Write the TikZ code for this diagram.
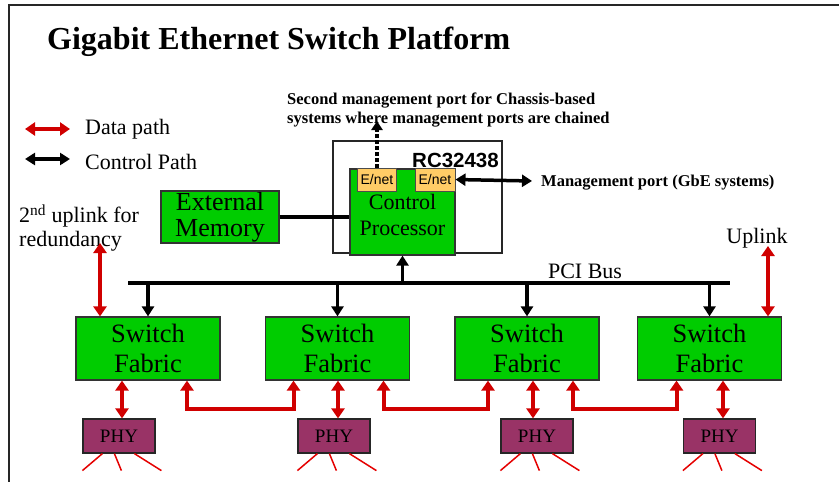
\documentclass[tikz,border=0pt]{standalone}
\usepackage{fontspec}
\setmainfont{Liberation Serif}
\newfontfamily\arialf{Liberation Sans}
\usetikzlibrary{arrows.meta,calc}
\definecolor{boxgreen}{RGB}{0,204,0}
\definecolor{phycol}{RGB}{153,51,102}
\definecolor{enetcol}{RGB}{255,204,102}
\definecolor{datared}{RGB}{208,0,0}
\newcommand{\fsz}[2]{\fontsize{#1}{#2}\selectfont}
\begin{document}
\begin{tikzpicture}[x=1pt,y=-1pt,
  greenbox/.style={draw=black!80, line width=1.2pt, fill=boxgreen, inner sep=0pt, align=center},
  sfbox/.style={greenbox, minimum width=144pt, minimum height=63pt, font=\fsz{26.5}{30}},
  phybox/.style={draw=black!85, line width=1.2pt, fill=phycol, minimum width=72pt, minimum height=34pt, inner sep=0pt, font=\fsz{19}{20}},
  enetbox/.style={draw=black!70, line width=1pt, fill=enetcol, minimum height=23pt, inner sep=0pt, font=\arialf\fsz{14}{16}},
  datalink/.style={draw=datared, line width=4pt, {Triangle[width=13pt,length=10pt]}-{Triangle[width=13pt,length=10pt]}},
  ctrlarrow/.style={draw=black, line width=3.5pt, -{Triangle[width=12pt,length=10pt]}},
  ctrlboth/.style={draw=black, line width=3.5pt, {Triangle[width=12pt,length=10pt]}-{Triangle[width=12pt,length=10pt]}},
  spoke/.style={draw=red!90!black, line width=1.5pt},
  lbl/.style={inner sep=0pt, font=\fsz{22}{24}}
]
\useasboundingbox (0,0) rectangle (839,482);
\fill[white] (0,0) rectangle (839,482);
% frame
\draw[line width=2pt, black!85] (839,5) -- (9,5) -- (9,482);

% title
\node[anchor=west, inner sep=0pt, font=\bfseries\fsz{32}{36}] (title) at (47,42) {Gigabit Ethernet Switch Platform};

% legend
\coordinate (lg1a) at (25,129);
\coordinate (lg1b) at (70,129);
\coordinate (lg2a) at (25,159);
\coordinate (lg2b) at (70,159);
\draw[datalink, line width=3.5pt] (lg1a) -- (lg1b);
\draw[ctrlboth] (lg2a) -- (lg2b);
\node[lbl, anchor=west] (ldata) at (85,129.5) {Data path};
\node[lbl, anchor=west] (lctrl) at (85,161.5) {Control Path};

% second uplink label
\node[lbl, anchor=west, align=left] (up2txt) at (19,228) {2\textsuperscript{nd} uplink for\\redundancy};

% RC32438 package
\node[draw=black!85, line width=1.2pt, fill=white, minimum width=169pt, minimum height=112pt, inner sep=0pt] (rc) at (417.5,197) {};
\node[anchor=west, inner sep=0pt, font=\arialf\bfseries\fsz{20.5}{22}] (rctxt) at (412,160) {RC32438};
\node[greenbox, minimum width=105pt, minimum height=86pt, font=\fsz{22}{26}] (cp) at (402.5,212) {\\[-4pt]Control\\Processor};
\node[enetbox, minimum width=39pt] (en1) at (377,179.5) {E/net};
\node[enetbox, minimum width=40pt] (en2) at (435,179.5) {E/net};

% external memory
\node[greenbox, minimum width=118pt, minimum height=52pt, font=\fsz{26}{26}] (mem) at (220,217) {External\\Memory};
\draw[black, line width=3.5pt] (mem.east) -- (mem.east -| cp.west);

% management ports
\coordinate (mg2) at (377,121);
\draw[black, line width=3.5pt, dash pattern=on 4pt off 2pt, -{Triangle[width=11pt,length=9pt]}] (en1.north) -- (mg2);
\node[anchor=west, align=left, inner sep=0pt, font=\bfseries\fsz{16.5}{19}] (mg2txt) at (287,110) {Second management port for Chassis-based\\systems where management ports are chained};
\coordinate (mg1) at (532,181);
\draw[ctrlboth] (en2.east) -- (mg1);
\node[anchor=west, inner sep=0pt, font=\bfseries\fsz{16.5}{19}] (mg1txt) at (541,183) {Management port (GbE systems)};

% PCI bus
\coordinate (busL) at (128,283);
\coordinate (busR) at (730,283);
\draw[black, line width=4pt] (busL) -- (busR);
\node[lbl] (pcitxt) at (585,271) {PCI Bus};
\draw[ctrlarrow] (cp.south |- busL) -- (cp.south);

% switch fabrics
\node[sfbox] (sf1) at (148,348.5) {Switch\\Fabric};
\node[sfbox] (sf2) at (337.5,348.5) {Switch\\Fabric};
\node[sfbox] (sf3) at (527,348.5) {Switch\\Fabric};
\node[sfbox] (sf4) at (709.5,348.5) {Switch\\Fabric};
\foreach \s in {sf1,sf2,sf3,sf4}{
  \draw[ctrlarrow] (\s.north |- busL) -- (\s.north);
}

% uplinks
\coordinate (up1) at (100,243);
\coordinate (up2) at (768,246);
\draw[datalink] (up1) -- (up1 |- sf1.north);
\draw[datalink] (up2) -- (up2 |- sf4.north);
\node[lbl] (uptxt) at (757,238) {Uplink};

% PHYs
\node[phybox] (phy1) at (119,436) {PHY};
\node[phybox] (phy2) at (334,436) {PHY};
\node[phybox] (phy3) at (537,436) {PHY};
\node[phybox] (phy4) at (719.5,436) {PHY};
\draw[datalink] ([xshift=3pt]phy1.north) -- ([xshift=3pt]phy1.north |- sf1.south);
\draw[datalink] ([xshift=4pt]phy2.north) -- ([xshift=4pt]phy2.north |- sf2.south);
\draw[datalink] ([xshift=-4pt]phy3.north) -- ([xshift=-4pt]phy3.north |- sf3.south);
\draw[datalink] ([xshift=3.5pt]phy4.north) -- ([xshift=3.5pt]phy4.north |- sf4.south);

% links between fabrics
\draw[datalink] ([xshift=39pt]sf1.south) |- ([xshift=-44pt,yshift=-28pt]sf2.south) -- ([xshift=-44pt]sf2.south);
\draw[datalink] ([xshift=46pt]sf2.south) |- ([xshift=-39pt,yshift=-28pt]sf3.south) -- ([xshift=-39pt]sf3.south);
\draw[datalink] ([xshift=46pt]sf3.south) |- ([xshift=-33pt,yshift=-28pt]sf4.south) -- ([xshift=-33pt]sf4.south);

% spokes below PHYs
\foreach \p in {phy1,phy2,phy3,phy4}{
  \draw[spoke] ([xshift=20pt]\p.south west) -- ++(-20,17);
  \draw[spoke] ([xshift=32pt]\p.south west) -- ++(7,17);
  \draw[spoke] ([xshift=52pt]\p.south west) -- ++(27,17);
}
\end{tikzpicture}
\end{document}
